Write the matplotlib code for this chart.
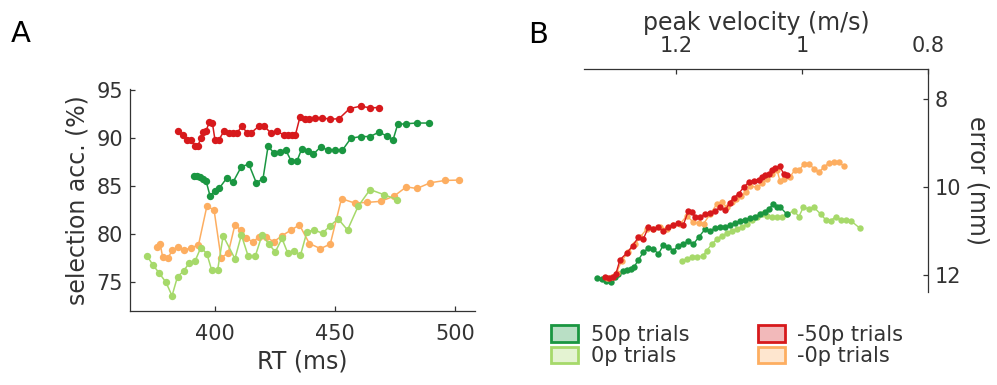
import matplotlib
matplotlib.use("Agg")
import matplotlib.pyplot as plt
from matplotlib.patches import Patch

# ---------------- Panel A data: RT (ms) vs selection accuracy (%) ----------------
rt_m50 = [384.8, 386.5, 388.3, 390.1, 391.7, 392.8, 394.1, 395.2, 396.3, 397.7, 398.9, 400.0,
          401.7, 403.7, 405.8, 407.6, 409.0, 411.3, 413.4, 414.9, 418.3, 420.4, 423.4, 425.8,
          428.7, 430.3, 432.0, 433.5, 435.4, 437.5, 439.3, 441.7, 444.4, 448.0, 451.7, 456.1,
          460.7, 464.6, 468.3]
acc_m50 = [90.70, 90.25, 89.82, 89.79, 89.12, 89.12, 89.96, 90.60, 90.77, 91.65, 91.58, 89.79,
           89.82, 90.70, 90.53, 90.49, 90.49, 91.23, 90.49, 90.49, 91.23, 91.23, 90.49, 90.67,
           90.32, 90.25, 90.25, 90.32, 92.18, 92.01, 92.01, 92.08, 92.11, 91.94, 92.01, 93.06,
           93.31, 93.13, 93.17]

rt_50 = [391.3, 392.4, 393.8, 395.2, 396.3, 397.9, 400.0, 401.7, 404.8, 407.6, 411.0, 414.1,
         417.2, 420.0, 422.1, 424.6, 426.9, 429.4, 431.7, 434.2, 436.1, 438.6, 441.0, 444.1,
         446.9, 449.9, 453.1, 456.6, 460.7, 464.6, 468.3, 471.7, 474.2, 476.1, 479.7, 484.1,
         489.0]
acc_50 = [86.02, 85.99, 85.88, 85.74, 85.49, 83.98, 84.44, 84.72, 85.77, 85.42, 87.01, 87.25,
          85.32, 85.74, 89.12, 88.42, 88.56, 88.77, 87.61, 87.61, 88.84, 88.66, 88.31, 89.08,
          88.73, 88.73, 88.73, 89.96, 90.14, 90.14, 90.60, 90.18, 89.82, 91.41, 91.48, 91.55,
          91.55]

rt_m0 = [375.9, 377.2, 378.2, 380.4, 382.3, 384.6, 387.2, 390.1, 393.1, 396.6, 399.6, 402.5,
         405.5, 408.3, 410.8, 413.1, 415.9, 418.3, 421.4, 424.4, 427.9, 431.7, 435.2, 439.3,
         443.9, 448.0, 452.7, 458.2, 463.4, 469.0, 474.5, 479.7, 484.1, 489.7, 495.9, 501.8]
acc_m0 = [78.63, 78.91, 77.57, 77.50, 78.27, 78.63, 78.27, 78.56, 78.80, 82.85, 82.50, 77.50,
          77.99, 80.92, 80.39, 79.51, 79.15, 79.68, 79.68, 79.15, 79.79, 80.39, 80.92, 78.98,
          78.45, 78.91, 83.66, 83.20, 83.27, 83.38, 83.91, 84.89, 84.72, 85.32, 85.56, 85.60]

rt_0 = [371.7, 374.1, 376.8, 379.6, 382.1, 384.4, 386.9, 389.2, 391.7, 394.1, 396.6, 398.6,
        401.1, 403.4, 408.3, 411.0, 413.8, 416.8, 419.6, 422.3, 425.1, 427.9, 430.3, 433.1,
        435.6, 438.3, 441.4, 444.8, 448.0, 451.3, 455.2, 459.6, 464.6, 470.3, 475.9]
acc_0 = [77.68, 76.76, 75.88, 74.93, 73.52, 75.53, 76.09, 76.94, 77.15, 78.56, 77.92, 76.23,
         76.23, 79.79, 77.39, 79.86, 77.68, 77.68, 79.86, 78.98, 78.10, 79.51, 77.99, 78.17,
         77.75, 80.21, 80.39, 80.04, 80.85, 81.55, 80.39, 82.85, 84.61, 84.08, 83.56]

# ---------------- Panel B data: peak velocity (m/s) vs error (mm) ----------------
vel_m50 = [1.3138, 1.3069, 1.3005, 1.2963, 1.2899, 1.2793, 1.2697, 1.2606, 1.2527, 1.2447,
           1.2367, 1.2287, 1.2207, 1.2128, 1.2048, 1.1968, 1.1888, 1.1809, 1.1755, 1.1702,
           1.1622, 1.1543, 1.1463, 1.1383, 1.1303, 1.1223, 1.1154, 1.1090, 1.1011, 1.0931,
           1.0851, 1.0771, 1.0691, 1.0638, 1.0585, 1.0532, 1.0479, 1.0426, 1.0356, 1.0293,
           1.0239]
err_m50 = [12.05, 12.06, 12.05, 11.97, 11.65, 11.50, 11.33, 11.14, 11.18, 10.91,
           10.95, 10.91, 11.00, 10.90, 10.85, 10.82, 10.85, 10.53, 10.57, 10.68,
           10.68, 10.61, 10.59, 10.53, 10.46, 10.52, 10.36, 10.24, 10.15, 10.00,
           9.89, 9.85, 9.83, 9.77, 9.73, 9.70, 9.61, 9.56, 9.53, 9.70,
           9.73]

vel_m0 = [1.3112, 1.3032, 1.2952, 1.2872, 1.2766, 1.2660, 1.2580, 1.2473, 1.2367, 1.2261,
          1.2154, 1.2048, 1.1941, 1.1835, 1.1729, 1.1649, 1.1569, 1.1463, 1.1356, 1.1277,
          1.1197, 1.1117, 1.1048, 1.0973, 1.0899, 1.0824, 1.0718, 1.0638, 1.0559, 1.0479,
          1.0399, 1.0356, 1.0282, 1.0197, 1.0122, 1.0048, 0.9973, 0.9894, 0.9814, 0.9734,
          0.9654, 0.9574, 0.9495, 0.9415, 0.9335]
err_m0 = [12.06, 12.03, 11.94, 11.67, 11.48, 11.29, 11.14, 10.95, 10.95, 10.91,
          10.95, 10.85, 10.83, 10.65, 10.80, 10.82, 10.83, 10.61, 10.38, 10.34,
          10.46, 10.34, 10.27, 10.21, 10.11, 9.98, 10.00, 9.91, 9.81, 9.70,
          9.62, 9.85, 9.81, 9.77, 9.62, 9.61, 9.48, 9.47, 9.58, 9.66,
          9.54, 9.45, 9.42, 9.43, 9.53]

vel_50 = [1.3261, 1.3191, 1.3122, 1.3048, 1.2979, 1.2926, 1.2856, 1.2793, 1.2729, 1.2676,
          1.2606, 1.2527, 1.2447, 1.2367, 1.2287, 1.2207, 1.2128, 1.2048, 1.1968, 1.1888,
          1.1809, 1.1729, 1.1649, 1.1543, 1.1463, 1.1383, 1.1303, 1.1223, 1.1144, 1.1064,
          1.0984, 1.0904, 1.0824, 1.0745, 1.0665, 1.0585, 1.0532, 1.0463, 1.0399, 1.0346,
          1.0239]
err_50 = [12.06, 12.09, 12.13, 12.16, 12.05, 11.97, 11.91, 11.88, 11.86, 11.82,
          11.65, 11.48, 11.38, 11.40, 11.52, 11.31, 11.35, 11.44, 11.33, 11.28,
          11.23, 11.29, 11.14, 10.95, 10.99, 10.93, 10.91, 10.91, 10.87, 10.82,
          10.76, 10.74, 10.70, 10.68, 10.62, 10.57, 10.49, 10.39, 10.46, 10.46,
          10.62]

vel_0 = [1.1915, 1.1835, 1.1755, 1.1676, 1.1580, 1.1516, 1.1436, 1.1356, 1.1277, 1.1197,
         1.1117, 1.1037, 1.0957, 1.0878, 1.0798, 1.0718, 1.0638, 1.0559, 1.0479, 1.0399,
         1.0319, 1.0239, 1.0133, 1.0053, 0.9984, 0.9894, 0.9814, 0.9707, 0.9628, 0.9548,
         0.9468, 0.9388, 0.9309, 0.9229, 0.9085]
err_0 = [11.67, 11.63, 11.59, 11.59, 11.56, 11.44, 11.29, 11.18, 11.10, 11.05,
         10.99, 10.95, 10.90, 10.83, 10.74, 10.67, 10.62, 10.65, 10.68, 10.68,
         10.67, 10.62, 10.53, 10.67, 10.46, 10.49, 10.46, 10.61, 10.74, 10.76,
         10.67, 10.74, 10.74, 10.76, 10.93]

labels = ["50p trials", "0p trials", "-50p trials", "-0p trials"]
c_50, c_0, c_m50, c_m0 = "#1a9641", "#a6d96a", "#d7191c", "#fdae61"

txt = "#333333"
plt.rcParams["font.family"] = ["DejaVu Sans"]
plt.rcParams["axes.edgecolor"] = txt
plt.rcParams["xtick.color"] = txt
plt.rcParams["ytick.color"] = txt

W, H = 997, 385
fig = plt.figure(figsize=(W / 100, H / 100), dpi=100)

def rect(l, t, r, b):
    return [l / W, 1 - b / H, (r - l) / W, (b - t) / H]

# ---------------- Panel A ----------------
axA = fig.add_axes(rect(130, 89, 475, 311))
ms = 5.3
for x, y, c in [(rt_m0, acc_m0, c_m0), (rt_0, acc_0, c_0), (rt_50, acc_50, c_50), (rt_m50, acc_m50, c_m50)]:
    axA.plot(x, y, "-o", color=c, lw=1.1, ms=ms, mec=c, mew=0)
axA.set_xlim(364.6, 508.3)
axA.set_ylim(71.94, 95.1)
axA.set_xticks([400, 450, 500])
axA.set_yticks([75, 80, 85, 90, 95])
for s in ["top", "right"]:
    axA.spines[s].set_visible(False)
for s in ["left", "bottom"]:
    axA.spines[s].set_linewidth(0.9)
axA.tick_params(axis="both", direction="in", length=3.5, width=0.9, labelsize=15, labelcolor=txt)
axA.tick_params(axis="x", pad=9)
axA.tick_params(axis="y", pad=5)
axA.set_xlabel("RT (ms)", fontsize=17, color=txt, labelpad=4)
axA.set_ylabel("selection acc. (%)", fontsize=17, color=txt, labelpad=5)

# ---------------- Panel B ----------------
axB = fig.add_axes(rect(584, 69, 928, 292))
msb = 4.6
for x, y, c in [(vel_0, err_0, c_0), (vel_50, err_50, c_50), (vel_m0, err_m0, c_m0), (vel_m50, err_m50, c_m50)]:
    axB.plot(x, y, "-o", color=c, lw=1.0, ms=msb, mec=c, mew=0)
axB.set_xlim(1.347, 0.8)
axB.set_ylim(12.38, 7.317)
axB.set_xticks([1.2, 1.0, 0.8])
axB.set_xticklabels(["1.2", "1", "0.8"])
axB.set_yticks([8, 10, 12])
axB.xaxis.tick_top()
axB.xaxis.set_label_position("top")
axB.yaxis.tick_right()
axB.yaxis.set_label_position("right")
for s in ["bottom", "left"]:
    axB.spines[s].set_visible(False)
for s in ["top", "right"]:
    axB.spines[s].set_linewidth(0.9)
axB.tick_params(axis="both", direction="in", length=3.5, width=0.9, labelsize=15, labelcolor=txt)
axB.tick_params(axis="x", pad=9)
axB.tick_params(axis="y", pad=5)
axB.set_xlabel("peak velocity (m/s)", fontsize=17, color=txt, labelpad=5)
axB.set_ylabel("error (mm)", fontsize=17, color=txt, rotation=270, labelpad=20)

# ---------------- Legend ----------------
handles = [Patch(facecolor=matplotlib.colors.to_rgba(c, 0.3), edgecolor=c, linewidth=2)
           for c in [c_50, c_0, c_m50, c_m0]]
fig.legend(handles, labels, loc="upper left", bbox_to_anchor=(551 / W, 1 - 325 / H),
           ncol=2, frameon=False, fontsize=15, handlelength=1.3, handleheight=0.85,
           handletextpad=0.6, columnspacing=3.3, labelspacing=0.05, borderpad=0,
           borderaxespad=0, labelcolor=txt)

# ---------------- Panel letters ----------------
fig.text(11 / W, 1 - 42 / H, "A", fontsize=21, color="black", ha="left", va="baseline")
fig.text(528 / W, 1 - 43 / H, "B", fontsize=21, color="black", ha="left", va="baseline")

fig.savefig("out.png", dpi=100)
